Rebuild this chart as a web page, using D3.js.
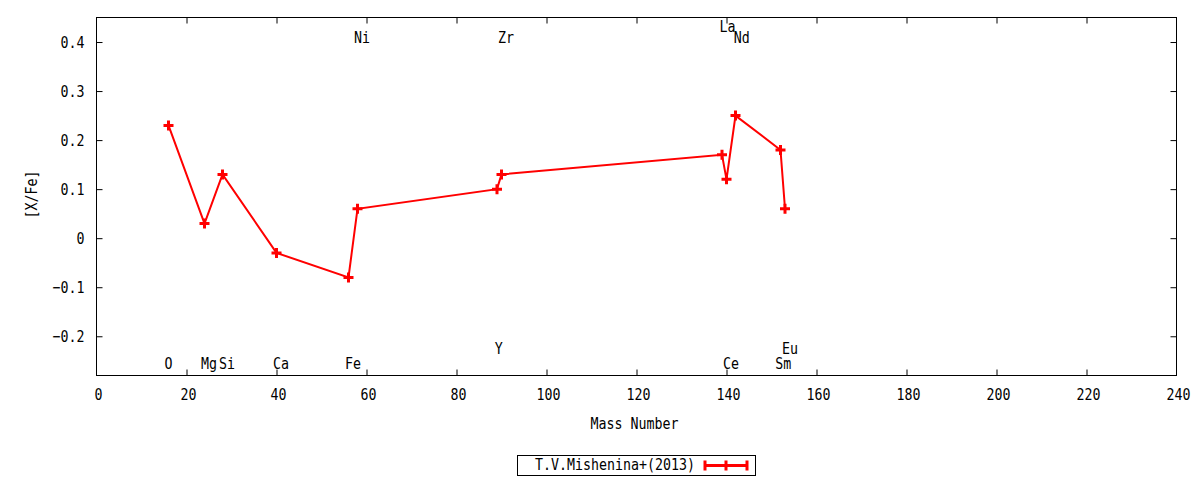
<!DOCTYPE html>
<html><head><meta charset="utf-8">
<script src="https://cdn.jsdelivr.net/npm/d3@7"></script>
<style>body{margin:0;background:#fff} text{font-family:"DejaVu Sans Mono",monospace;font-size:16px;fill:#000}</style>
</head><body><svg id="c" width="1200" height="480"></svg>
<script>
const elements = ["O","Mg","Si","Ca","Fe","Ni","Y","Zr","La","Ce","Nd","Sm","Eu"];
const massNumbers = [16,24,28,40,56,58,89,90,139,140,142,152,153];
const abundances = [0.23,0.03,0.13,-0.03,-0.08,0.06,0.10,0.13,0.17,0.12,0.25,0.18,0.06];
const labelX = [16,25,29,41,57,59,89.4,91,140.2,141,143.4,152.6,154.1];
const labelY = [-0.257,-0.257,-0.257,-0.257,-0.257,0.408,-0.228,0.408,0.430,-0.257,0.407,-0.258,-0.228];
const xTicks = [0,20,40,60,80,100,120,140,160,180,200,220,240];
const yTicks = [-0.2,-0.1,0,0.1,0.2,0.3,0.4];
const seriesName = "T.V.Mishenina+(2013)";
const xTitle = "Mass Number", yTitle = "[X/Fe]";

const svg = d3.select("#c");
const L=96.5, R=1176.5, T=17.5, B=375.5;
const x = d3.scaleLinear().domain([0,240]).range([L,R]);
const y = d3.scaleLinear().domain([-0.28,0.45]).range([B,T]);
const red = "#ff0000";
function fit(sel){ sel.each(function(){ const t=d3.select(this); t.attr("textLength", t.text().length*8).attr("lengthAdjust","spacingAndGlyphs"); }); return sel; }

// axes
const xb = svg.append("g").attr("transform",`translate(0,${B})`).call(d3.axisBottom(x).tickValues(xTicks).tickSize(-6).tickPadding(12).tickFormat(d3.format("d")));
const xt = svg.append("g").attr("transform",`translate(0,${T})`).call(d3.axisTop(x).tickValues(xTicks).tickSize(-6).tickFormat(""));
const yl = svg.append("g").attr("transform",`translate(${L},0)`).call(d3.axisLeft(y).tickValues(yTicks).tickSize(-6).tickPadding(12).tickFormat(d=>d===0?"0":d3.format(".1f")(d)));
const yr = svg.append("g").attr("transform",`translate(${R},0)`).call(d3.axisRight(y).tickValues(yTicks).tickSize(-6).tickFormat(""));
[xb,xt,yl,yr].forEach(g=>{g.select(".domain").remove(); g.selectAll("line").attr("stroke","#000");
  g.selectAll("text").style("font-family",'"DejaVu Sans Mono",monospace').style("font-size","16px").attr("fill","#000");});
xb.selectAll("text").attr("dy","0.32em").attr("y",19).attr("x",1.5); fit(xb.selectAll("text"));
fit(yl.selectAll("text"));
xt.selectAll(".tick").filter(d=>d===0||d===240).remove();
xb.selectAll(".tick line").filter(d=>d===0||d===240).remove();
yl.selectAll(".tick line").attr("x2",6);
svg.append("rect").attr("x",L).attr("y",T).attr("width",R-L).attr("height",B-T).attr("fill","none").attr("stroke","#000");

// titles
fit(svg.append("text").attr("x",(L+R)/2-2).attr("y",424).attr("text-anchor","middle").attr("dominant-baseline","middle").text(xTitle));
fit(svg.append("text").attr("transform",`translate(32,${(T+B)/2-2}) rotate(-90)`).attr("text-anchor","middle").attr("dominant-baseline","middle").text(yTitle));

// element labels
elements.forEach((e,i)=>{
  fit(svg.append("text").attr("x",x(labelX[i])).attr("y",y(labelY[i])).attr("text-anchor","middle").attr("dominant-baseline","middle").text(e));
});

// data line
const pts = massNumbers.map((m,i)=>[m,abundances[i]]);
svg.append("path").datum(pts).attr("fill","none").attr("stroke",red).attr("stroke-width",2)
  .attr("d",d3.line().x(d=>x(d[0])).y(d=>y(d[1])));
const plus = (g,cx,cy)=>{ g.append("path").attr("d",`M${cx-5},${cy}H${cx+5}M${cx},${cy-5}V${cy+5}`).attr("stroke",red).attr("stroke-width",3).attr("fill","none"); };
const mg = svg.append("g");
pts.forEach(d=>plus(mg,x(d[0]),y(d[1])));

// legend
svg.append("rect").attr("x",517.5).attr("y",455.5).attr("width",238).attr("height",20).attr("fill","none").attr("stroke","#000");
fit(svg.append("text").attr("x",695).attr("y",465.5).attr("text-anchor","end").attr("dominant-baseline","middle").text(seriesName));
const lg = svg.append("g");
lg.append("path").attr("d","M705,465.5H747M705,460.5V470.5M747,460.5V470.5").attr("stroke",red).attr("stroke-width",3).attr("fill","none");
plus(lg,726,465.5);
</script></body></html>
